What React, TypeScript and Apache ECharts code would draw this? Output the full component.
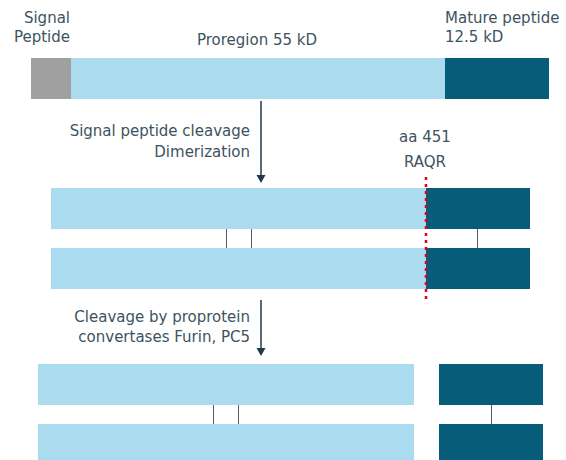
import React, { useEffect, useRef } from "react";
import * as echarts from "echarts";

// Protein segments (position along the drawing axis, band index)
const bandTop = [58, 188, 248, 364, 424];
const bandBottom = [99, 229, 289, 405, 466];
const segBand = [0, 0, 0, 1, 1, 2, 2, 3, 3, 4, 4];
const segFrom = [31, 71, 445, 51, 426, 51, 426, 38, 439, 38, 439];
const segTo = [71, 445, 549, 426, 530, 426, 530, 414, 543, 414, 543];
const segKind = [0, 1, 2, 1, 2, 1, 2, 1, 2, 1, 2]; // 0 signal, 1 proregion, 2 mature

// Disulfide links between dimer chains
const linkX = [226, 251, 477, 213, 238, 491];
const linkUpperBand = [1, 1, 1, 3, 3, 3];

// Cleavage site
const cleavageX = 426;
const cleavageFrom = 177;
const cleavageTo = 300;

// Process arrows
const arrowX = [261, 261];
const arrowFrom = [101, 300];
const arrowTo = [183, 356];

// Labels
const labelText = [
  "Signal",
  "Peptide",
  "Proregion 55 kD",
  "Mature peptide",
  "12.5 kD",
  "Signal peptide cleavage",
  "Dimerization",
  "aa 451",
  "RAQR",
  "Cleavage by proprotein",
  "convertases Furin, PC5",
];
const labelX = [70, 70, 257, 445, 445, 250, 250, 425, 425, 250, 250];
const labelY = [18, 37, 40, 18, 37, 131, 152, 137, 162, 317, 337];
const labelAlign = ["right", "right", "center", "left", "left", "right", "right", "center", "center", "right", "right"];

const kindColors = ["#a0a0a0", "#abdbee", "#075c7a"];
const textColor = "#3d5361";
const FONT = "'DejaVu Sans', sans-serif";

export default function App() {
  const ref = useRef<HTMLDivElement>(null);
  useEffect(() => {
    if (!ref.current) return;
    const chart = echarts.init(ref.current, null, { renderer: "svg" });
    const segData = segFrom.map((f, i) => [f, segTo[i], bandTop[segBand[i]], bandBottom[segBand[i]], segKind[i]]);
    const linkData = linkX.map((x, i) => [x, bandBottom[linkUpperBand[i]], bandTop[linkUpperBand[i] + 1]]);
    const arrowData = arrowX.map((x, i) => [x, arrowFrom[i], arrowTo[i]]);
    chart.setOption({
      animation: false,
      grid: { left: 0, right: 0, top: 0, bottom: 0 },
      xAxis: { type: "value", min: 0, max: 566, show: false },
      yAxis: { type: "value", min: 0, max: 460, inverse: true, show: false },
      series: [
        {
          type: "custom",
          data: segData,
          clip: false,
          renderItem: (params: any, api: any) => {
            const p0 = api.coord([api.value(0), api.value(2)]);
            const p1 = api.coord([api.value(1), api.value(3)]);
            return {
              type: "rect",
              shape: { x: p0[0], y: p0[1], width: p1[0] - p0[0], height: p1[1] - p0[1] },
              style: { fill: kindColors[api.value(4)] },
            };
          },
        },
        {
          type: "custom",
          data: linkData,
          renderItem: (params: any, api: any) => {
            const p0 = api.coord([api.value(0), api.value(1)]);
            const p1 = api.coord([api.value(0), api.value(2)]);
            return {
              type: "line",
              shape: { x1: p0[0] + 0.5, y1: p0[1], x2: p1[0] + 0.5, y2: p1[1] },
              style: { stroke: "#4e5d68", lineWidth: 1 },
            };
          },
        },
        {
          type: "custom",
          data: arrowData,
          renderItem: (params: any, api: any) => {
            const p0 = api.coord([api.value(0), api.value(1)]);
            const p1 = api.coord([api.value(0), api.value(2)]);
            return {
              type: "group",
              children: [
                {
                  type: "line",
                  shape: { x1: p0[0], y1: p0[1], x2: p1[0], y2: p1[1] - 6 },
                  style: { stroke: "#1f3a4b", lineWidth: 1.5 },
                },
                {
                  type: "polygon",
                  shape: {
                    points: [
                      [p1[0] - 4.5, p1[1] - 8],
                      [p1[0] + 4.5, p1[1] - 8],
                      [p1[0], p1[1]],
                    ],
                  },
                  style: { fill: "#1f3a4b" },
                },
              ],
            };
          },
        },
        {
          type: "custom",
          data: [[cleavageX, cleavageFrom, cleavageTo]],
          z: 5,
          renderItem: (params: any, api: any) => {
            const p0 = api.coord([api.value(0), api.value(1)]);
            const p1 = api.coord([api.value(0), api.value(2)]);
            return {
              type: "line",
              shape: { x1: p0[0], y1: p0[1], x2: p1[0], y2: p1[1] },
              style: { stroke: "#e0001a", lineWidth: 2.5, lineDash: [3, 4] },
            };
          },
        },
        {
          type: "custom",
          data: labelText.map((t, i) => [labelX[i], labelY[i], i]),
          z: 6,
          renderItem: (params: any, api: any) => {
            const i = api.value(2);
            const p = api.coord([api.value(0), api.value(1)]);
            return {
              type: "text",
              x: p[0],
              y: p[1],
              style: {
                text: labelText[i],
                fill: textColor,
                font: `15px ${FONT}`,
                textAlign: labelAlign[i],
                textVerticalAlign: "middle",
              },
            };
          },
        },
      ],
    });
    return () => chart.dispose();
  }, []);
  return (
    <div
      ref={ref}
      style={{ position: "fixed", left: 0, top: 0, width: 566, height: 460, background: "#fff" }}
    />
  );
}
